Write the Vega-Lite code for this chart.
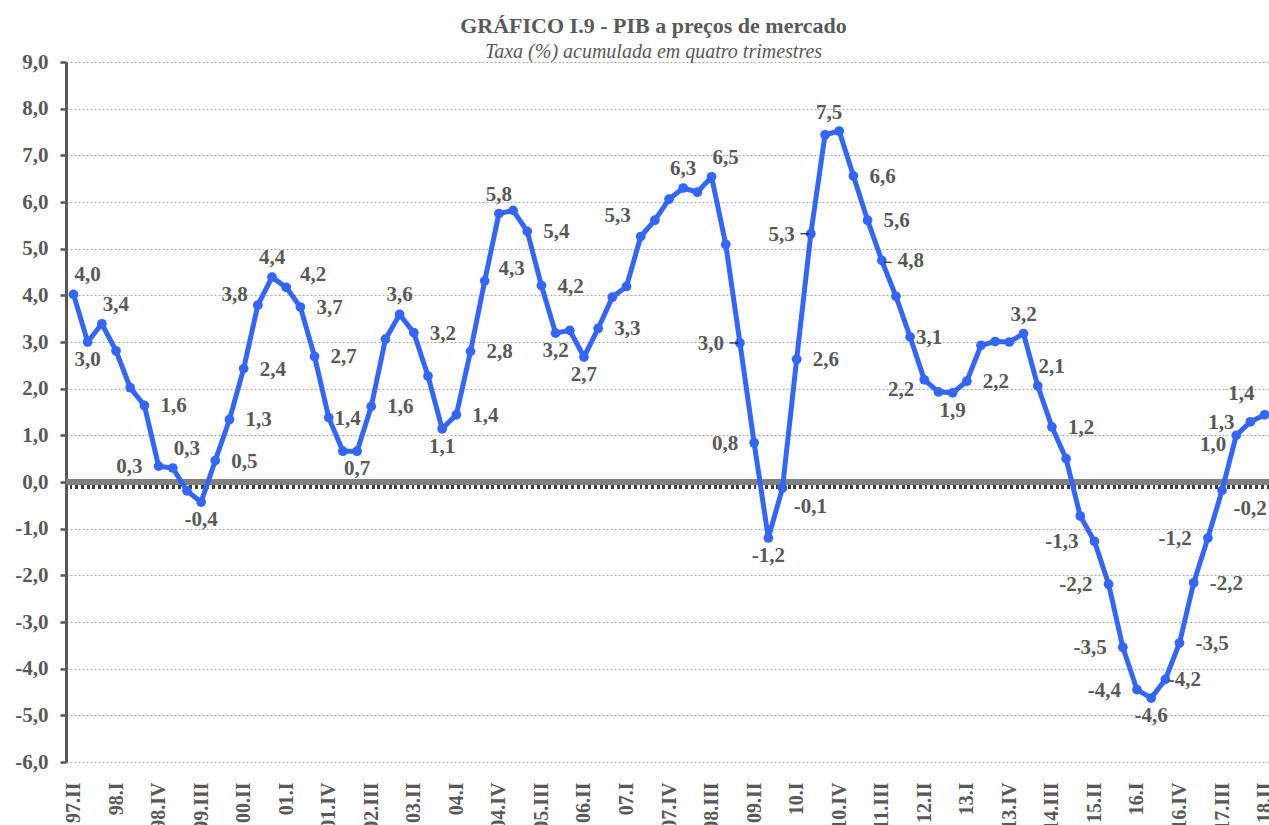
{
  "$schema": "https://vega.github.io/schema/vega-lite/v6.json",
  "width": 1203,
  "height": 700,
  "autosize": {"type": "none"},
  "padding": {"left": 66, "right": 0, "top": 62, "bottom": 63},
  "background": "white",
  "config": {"view": {"stroke": null}, "font": "Liberation Serif"},
  "title": {
    "text": "GRÁFICO I.9 - PIB a preços de mercado",
    "subtitle": "Taxa (%)  acumulada em quatro trimestres",
    "anchor": "middle",
    "dx": -14,
    "offset": -12,
    "font": "Liberation Serif",
    "fontSize": 22,
    "fontWeight": "bold",
    "color": "#595959",
    "subtitleFont": "Liberation Serif",
    "subtitleFontSize": 20,
    "subtitleFontStyle": "italic",
    "subtitleColor": "#595959",
    "subtitlePadding": 4
  },
  "data": {
    "values": [
      {"q": "97.II", "v": 4.02, "t": "4,0"},
      {"q": "97.III", "v": 3.0, "t": "3,0"},
      {"q": "97.IV", "v": 3.39, "t": "3,4"},
      {"q": "98.I", "v": 2.81},
      {"q": "98.II", "v": 2.02},
      {"q": "98.III", "v": 1.64, "t": "1,6"},
      {"q": "98.IV", "v": 0.34, "t": "0,3"},
      {"q": "99.I", "v": 0.30, "t": "0,3"},
      {"q": "99.II", "v": -0.19},
      {"q": "99.III", "v": -0.43, "t": "-0,4"},
      {"q": "99.IV", "v": 0.46, "t": "0,5"},
      {"q": "00.I", "v": 1.34, "t": "1,3"},
      {"q": "00.II", "v": 2.43, "t": "2,4"},
      {"q": "00.III", "v": 3.79, "t": "3,8"},
      {"q": "00.IV", "v": 4.39, "t": "4,4"},
      {"q": "01.I", "v": 4.17, "t": "4,2"},
      {"q": "01.II", "v": 3.75, "t": "3,7"},
      {"q": "01.III", "v": 2.69, "t": "2,7"},
      {"q": "01.IV", "v": 1.38, "t": "1,4"},
      {"q": "02.I", "v": 0.66},
      {"q": "02.II", "v": 0.66, "t": "0,7"},
      {"q": "02.III", "v": 1.62, "t": "1,6"},
      {"q": "02.IV", "v": 3.06},
      {"q": "03.I", "v": 3.59, "t": "3,6"},
      {"q": "03.II", "v": 3.2, "t": "3,2"},
      {"q": "03.III", "v": 2.27},
      {"q": "03.IV", "v": 1.14, "t": "1,1"},
      {"q": "04.I", "v": 1.44, "t": "1,4"},
      {"q": "04.II", "v": 2.8, "t": "2,8"},
      {"q": "04.III", "v": 4.31, "t": "4,3"},
      {"q": "04.IV", "v": 5.75, "t": "5,8"},
      {"q": "05.I", "v": 5.82},
      {"q": "05.II", "v": 5.37, "t": "5,4"},
      {"q": "05.III", "v": 4.21, "t": "4,2"},
      {"q": "05.IV", "v": 3.19, "t": "3,2"},
      {"q": "06.I", "v": 3.25},
      {"q": "06.II", "v": 2.68, "t": "2,7"},
      {"q": "06.III", "v": 3.29, "t": "3,3"},
      {"q": "06.IV", "v": 3.96},
      {"q": "07.I", "v": 4.19},
      {"q": "07.II", "v": 5.26, "t": "5,3"},
      {"q": "07.III", "v": 5.61},
      {"q": "07.IV", "v": 6.06},
      {"q": "08.I", "v": 6.3, "t": "6,3"},
      {"q": "08.II", "v": 6.21},
      {"q": "08.III", "v": 6.54, "t": "6,5"},
      {"q": "08.IV", "v": 5.09},
      {"q": "09.I", "v": 2.98, "t": "3,0"},
      {"q": "09.II", "v": 0.84, "t": "0,8"},
      {"q": "09.III", "v": -1.2, "t": "-1,2"},
      {"q": "09.IV", "v": -0.13, "t": "-0,1"},
      {"q": "10.I", "v": 2.63, "t": "2,6"},
      {"q": "10.II", "v": 5.32, "t": "5,3"},
      {"q": "10.III", "v": 7.44},
      {"q": "10.IV", "v": 7.52, "t": "7,5"},
      {"q": "11.I", "v": 6.56, "t": "6,6"},
      {"q": "11.II", "v": 5.61, "t": "5,6"},
      {"q": "11.III", "v": 4.75, "t": "4,8"},
      {"q": "11.IV", "v": 3.98},
      {"q": "12.I", "v": 3.11, "t": "3,1"},
      {"q": "12.II", "v": 2.19, "t": "2,2"},
      {"q": "12.III", "v": 1.93},
      {"q": "12.IV", "v": 1.91, "t": "1,9"},
      {"q": "13.I", "v": 2.16, "t": "2,2"},
      {"q": "13.II", "v": 2.93},
      {"q": "13.III", "v": 3.01},
      {"q": "13.IV", "v": 3.0},
      {"q": "14.I", "v": 3.18, "t": "3,2"},
      {"q": "14.II", "v": 2.06, "t": "2,1"},
      {"q": "14.III", "v": 1.18, "t": "1,2"},
      {"q": "14.IV", "v": 0.5},
      {"q": "15.I", "v": -0.73},
      {"q": "15.II", "v": -1.27, "t": "-1,3"},
      {"q": "15.III", "v": -2.19, "t": "-2,2"},
      {"q": "15.IV", "v": -3.54, "t": "-3,5"},
      {"q": "16.I", "v": -4.45, "t": "-4,4"},
      {"q": "16.II", "v": -4.63, "t": "-4,6"},
      {"q": "16.III", "v": -4.23, "t": "-4,2"},
      {"q": "16.IV", "v": -3.45, "t": "-3,5"},
      {"q": "17.I", "v": -2.16, "t": "-2,2"},
      {"q": "17.II", "v": -1.2, "t": "-1,2"},
      {"q": "17.III", "v": -0.18, "t": "-0,2"},
      {"q": "17.IV", "v": 1.0, "t": "1,0"},
      {"q": "18.I", "v": 1.29, "t": "1,3"},
      {"q": "18.II", "v": 1.44, "t": "1,4"}
    ]
  },
  "encoding": {
    "x": {
      "field": "q",
      "type": "ordinal",
      "sort": null,
      "scale": {"type": "point", "padding": 0.42, "align": 0.63},
      "axis": {
        "values": ["97.II", "98.I", "98.IV", "99.III", "00.II", "01.I", "01.IV", "02.III", "03.II", "04.I", "04.IV", "05.III", "06.II", "07.I", "07.IV", "08.III", "09.II", "10.I", "10.IV", "11.III", "12.II", "13.I", "13.IV", "14.III", "15.II", "16.I", "16.IV", "17.III", "18.II"],
        "title": null,
        "labelAngle": -90,
        "domain": false,
        "ticks": false,
        "grid": false,
        "labelFont": "Liberation Serif",
        "labelFontSize": 20,
        "labelFontWeight": "bold",
        "labelColor": "#595959",
        "labelPadding": 20
      }
    },
    "y": {
      "field": "v",
      "type": "quantitative",
      "scale": {"domain": [-6, 9], "nice": false, "zero": false},
      "axis": {
        "values": [-6, -5, -4, -3, -2, -1, 0, 1, 2, 3, 4, 5, 6, 7, 8, 9],
        "title": null,
        "domainColor": "#595959",
        "domainWidth": 3,
        "tickColor": "#595959",
        "tickWidth": 2.5,
        "tickSize": 6,
        "gridColor": "#A6A6A6",
        "gridDash": [2, 2],
        "gridWidth": 1,
        "labelFont": "Liberation Serif",
        "labelFontSize": 21,
        "labelFontWeight": "bold",
        "labelColor": "#595959",
        "labelPadding": 12,
        "labelExpr": "(datum.value < 0 ? '-' : '') + replace(format(abs(datum.value), '.1f'), '.', ',')"
      }
    }
  },
  "layer": [
    {
      "mark": {"type": "rule", "color": "#808080", "strokeWidth": 5},
      "encoding": {"x": null, "y": {"datum": 0, "type": "quantitative"}}
    },
    {
      "mark": {"type": "rule", "color": "#404040", "strokeWidth": 3, "strokeDash": [2, 3.7], "yOffset": 5},
      "encoding": {"x": null, "y": {"datum": 0, "type": "quantitative"}}
    },
    {"mark": {"type": "line", "color": "#3366FF", "strokeWidth": 5}},
    {"mark": {"type": "point", "filled": true, "color": "#3366FF", "size": 95, "opacity": 1}},
    {
      "transform": [{"filter": {"field": "q", "oneOf": ["09.I", "10.II"]}}],
      "mark": {"type": "tick", "orient": "horizontal", "size": 9, "thickness": 1.5, "color": "black", "xOffset": -6}
    },
    {
      "transform": [{"filter": {"field": "q", "oneOf": ["11.III"]}}],
      "mark": {"type": "tick", "orient": "horizontal", "size": 8, "thickness": 1.5, "color": "black", "xOffset": 6, "yOffset": 2}
    },
    {
      "transform": [{"filter": {"field": "q", "oneOf": ["98.III", "99.IV", "00.I", "00.II", "01.II", "01.III", "02.III", "03.II", "04.I", "04.II", "05.II", "05.III", "06.III", "10.I", "11.I", "11.II", "11.III", "13.I", "14.III", "16.IV", "17.I"]}}],
      "mark": {"type": "text", "align": "left", "baseline": "middle", "dx": 16, "dy": 1, "font": "Liberation Serif", "fontSize": 21, "fontWeight": "bold", "color": "#595959"},
      "encoding": {"text": {"field": "t"}}
    },
    {
      "transform": [{"filter": {"field": "q", "oneOf": ["98.IV", "09.I", "09.II", "10.II", "15.II", "15.III", "15.IV", "16.I", "17.II", "18.I"]}}],
      "mark": {"type": "text", "align": "right", "baseline": "middle", "dx": -16, "dy": 1, "font": "Liberation Serif", "fontSize": 21, "fontWeight": "bold", "color": "#595959"},
      "encoding": {"text": {"field": "t"}}
    },
    {
      "transform": [{"filter": {"field": "q", "oneOf": ["12.II", "17.IV"]}}],
      "mark": {"type": "text", "align": "right", "baseline": "middle", "dx": -10, "dy": 10, "font": "Liberation Serif", "fontSize": 21, "fontWeight": "bold", "color": "#595959"},
      "encoding": {"text": {"field": "t"}}
    },
    {
      "transform": [{"filter": {"field": "q", "oneOf": ["00.III"]}}],
      "mark": {"type": "text", "align": "right", "baseline": "middle", "dx": -10, "dy": -10, "font": "Liberation Serif", "fontSize": 21, "fontWeight": "bold", "color": "#595959"},
      "encoding": {"text": {"field": "t"}}
    },
    {
      "transform": [{"filter": {"field": "q", "oneOf": ["07.II", "18.II"]}}],
      "mark": {"type": "text", "align": "right", "baseline": "middle", "dx": -10, "dy": -21, "font": "Liberation Serif", "fontSize": 21, "fontWeight": "bold", "color": "#595959"},
      "encoding": {"text": {"field": "t"}}
    },
    {
      "transform": [{"filter": {"field": "q", "oneOf": ["00.IV", "03.I", "04.IV", "08.I", "14.I"]}}],
      "mark": {"type": "text", "align": "center", "baseline": "middle", "dx": 0, "dy": -19, "font": "Liberation Serif", "fontSize": 21, "fontWeight": "bold", "color": "#595959"},
      "encoding": {"text": {"field": "t"}}
    },
    {
      "transform": [{"filter": {"field": "q", "oneOf": ["10.IV"]}}],
      "mark": {"type": "text", "align": "center", "baseline": "middle", "dx": -10, "dy": -18, "font": "Liberation Serif", "fontSize": 21, "fontWeight": "bold", "color": "#595959"},
      "encoding": {"text": {"field": "t"}}
    },
    {
      "transform": [{"filter": {"field": "q", "oneOf": ["97.II", "97.IV", "99.I", "08.III", "14.II"]}}],
      "mark": {"type": "text", "align": "center", "baseline": "middle", "dx": 14, "dy": -19, "font": "Liberation Serif", "fontSize": 21, "fontWeight": "bold", "color": "#595959"},
      "encoding": {"text": {"field": "t"}}
    },
    {
      "transform": [{"filter": {"field": "q", "oneOf": ["01.I", "04.III"]}}],
      "mark": {"type": "text", "align": "center", "baseline": "middle", "dx": 27, "dy": -12, "font": "Liberation Serif", "fontSize": 21, "fontWeight": "bold", "color": "#595959"},
      "encoding": {"text": {"field": "t"}}
    },
    {
      "transform": [{"filter": {"field": "q", "oneOf": ["01.IV", "12.I", "16.III"]}}],
      "mark": {"type": "text", "align": "center", "baseline": "middle", "dx": 19, "dy": 1, "font": "Liberation Serif", "fontSize": 21, "fontWeight": "bold", "color": "#595959"},
      "encoding": {"text": {"field": "t"}}
    },
    {
      "transform": [{"filter": {"field": "q", "oneOf": ["97.III", "99.III", "02.II", "03.IV", "05.IV", "06.II", "09.III", "12.IV", "16.II"]}}],
      "mark": {"type": "text", "align": "center", "baseline": "middle", "dx": 0, "dy": 18, "font": "Liberation Serif", "fontSize": 21, "fontWeight": "bold", "color": "#595959"},
      "encoding": {"text": {"field": "t"}}
    },
    {
      "transform": [{"filter": {"field": "q", "oneOf": ["09.IV", "17.III"]}}],
      "mark": {"type": "text", "align": "center", "baseline": "middle", "dx": 28, "dy": 19, "font": "Liberation Serif", "fontSize": 21, "fontWeight": "bold", "color": "#595959"},
      "encoding": {"text": {"field": "t"}}
    }
  ]
}
